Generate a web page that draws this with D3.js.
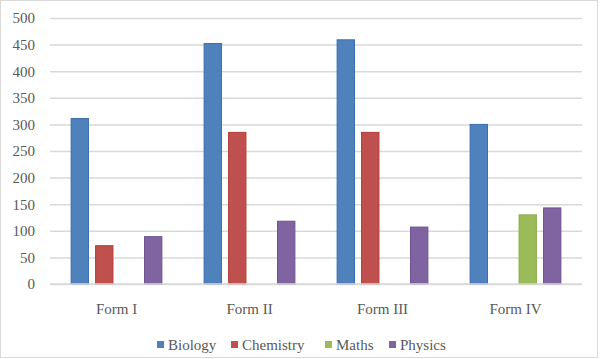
<!DOCTYPE html>
<html><head><meta charset="utf-8">
<script src="https://cdn.jsdelivr.net/npm/d3@7"></script>
<style>body{margin:0;background:#fff}svg{display:block}text{font-family:"Liberation Serif","DejaVu Serif",serif;fill:#595959}</style>
</head><body><svg id="c" width="600" height="359"></svg>
<script>
const categories = ["Form I","Form II","Form III","Form IV"];
const seriesNames = ["Biology","Chemistry","Maths","Physics"];
const biology = [311,452,459,300];
const chemistry = [72,285,285,0];
const maths = [0,0,0,130];
const physics = [89,118,107,143];
const yTicks = [0,50,100,150,200,250,300,350,400,450,500];
const colors = ["#4F81BD","#C0504D","#9BBB59","#8064A2"];
const strokes = ["#3A6EAD","#B33A37","#8CAE4A","#6E5292"];
const values = [biology,chemistry,maths,physics];

(function(){
const svg = d3.select("#c");
svg.append("rect").attr("x",0.5).attr("y",0.5).attr("width",597).attr("height",357)
  .attr("fill","#fff").attr("stroke","#d9d9d9");
const L=50,R=582,T=18,B=284;
const y = d3.scaleLinear().domain([0,500]).range([B,T]);
const x0 = d3.scaleBand().domain(categories).range([L,R]).paddingInner(0.31).paddingOuter(0.155);
const x1 = d3.scaleBand().domain(seriesNames).range([0,x0.bandwidth()]).paddingInner(0.25).paddingOuter(0);

const ya = d3.axisLeft(y).tickValues(yTicks).tickSize(-(R-L)).tickFormat(d3.format("d"));
const gy = svg.append("g").attr("transform",`translate(${L},0)`).call(ya);
gy.select(".domain").remove();
gy.selectAll(".tick line").attr("stroke","#d9d9d9").attr("stroke-width",1.5);
gy.selectAll(".tick text").attr("x",-15).attr("font-size",15).attr("fill","#595959");

categories.forEach((c,i)=>{
  const g = svg.append("g").attr("transform",`translate(${x0(c)},0)`);
  seriesNames.forEach((s,j)=>{
    const v = values[j][i];
    if(!v) return;
    g.append("rect").attr("x",x1(s)+0.5).attr("y",y(v)).attr("width",x1.bandwidth()-1).attr("height",y(0)-y(v))
      .attr("fill",colors[j]).attr("stroke",strokes[j]).attr("stroke-width",1);
  });
});

const xa = d3.axisBottom(x0).tickSize(0).tickPadding(19);
const gx = svg.append("g").attr("transform",`translate(0,${B})`).call(xa);
gx.select(".domain").attr("stroke","#d9d9d9").attr("stroke-width",1.5).attr("d",`M${L},0H${R}`);
gx.selectAll(".tick text").attr("font-size",15).attr("fill","#595959");

const legX = [157,231,325,389];
const lg = svg.append("g");
seriesNames.forEach((s,j)=>{
  lg.append("rect").attr("x",legX[j]).attr("y",341).attr("width",7).attr("height",7).attr("fill",colors[j]);
  lg.append("text").attr("x",legX[j]+11).attr("y",345).attr("dy","0.35em").attr("font-size",15).attr("fill","#595959").text(s);
});
})();
</script></body></html>
